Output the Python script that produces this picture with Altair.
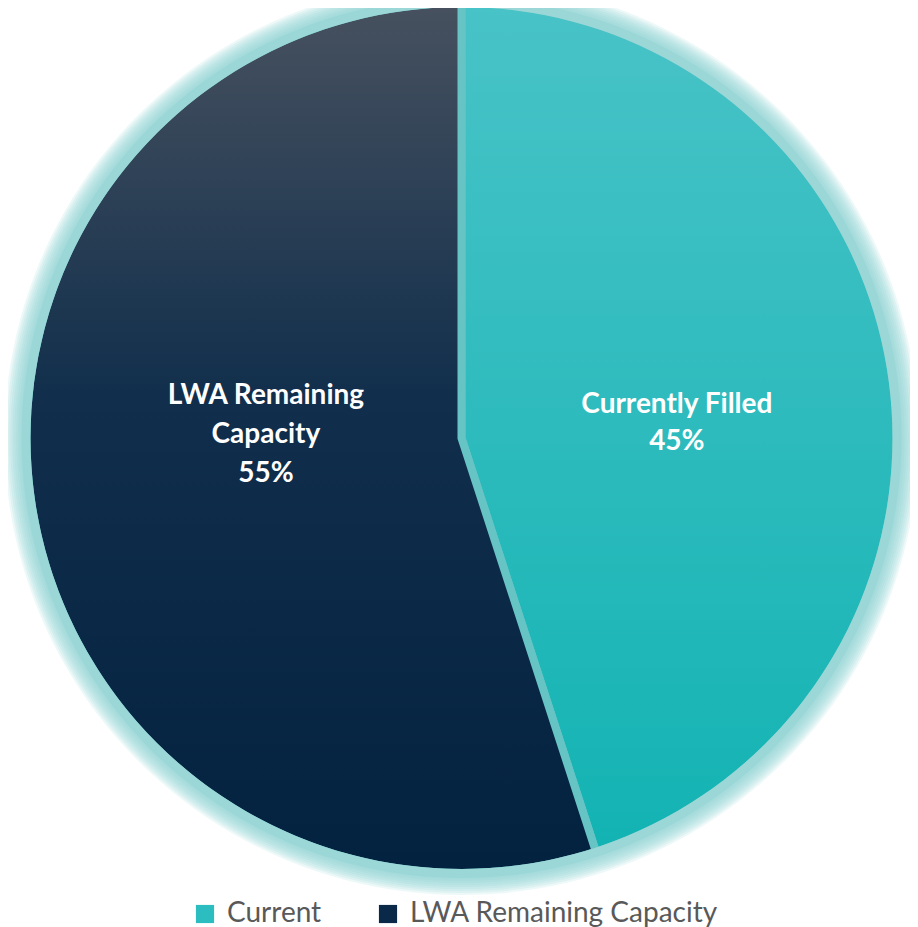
import altair as alt
import pandas as pd

categories = ["Current", "LWA Remaining Capacity"]
values = [45, 55]
slice_labels = [["Currently Filled", "45%"], ["LWA Remaining", "Capacity", "55%"]]
legend_colors = ["#2bbdbf", "#0a2948"]

df = pd.DataFrame({
    "category": categories,
    "value": values,
    "order": list(range(len(categories))),
    "lines": slice_labels,
})
one = pd.DataFrame({"k": [0]})

CX, CY, R = 453.5, 430, 431
TWO_PI = 6.28318

grad_teal = {
    "gradient": "linear", "x1": 0, "y1": 0, "x2": 0, "y2": 1,
    "stops": [{"offset": 0, "color": "#48c3c7"}, {"offset": 1, "color": "#13b3b3"}],
}
grad_dark = {
    "gradient": "linear", "x1": 0, "y1": 0, "x2": 0, "y2": 1,
    "stops": [{"offset": 0, "color": "#47515f"}, {"offset": 0.45, "color": "#112f4c"},
              {"offset": 1, "color": "#03223f"}],
}

# soft glow around the pie
glow_layers = []
for k in range(1, 14):
    glow_layers.append(
        alt.Chart(one).mark_arc(theta=0, theta2=TWO_PI, radius=R + 2 * k,
                                color="#8fd3d3", opacity=0.16)
        .encode(x=alt.value(CX), y=alt.value(CY))
    )

base = alt.Chart(df)
theta = alt.Theta("value:Q", stack=True)
order = alt.Order("order:Q")

solid = base.mark_arc(radius=R).encode(
    x=alt.value(CX), y=alt.value(CY),
    theta=theta, order=order,
    color=alt.Color("category:N",
                    scale=alt.Scale(domain=categories, range=legend_colors),
                    legend=alt.Legend(title=None, orient="none", legendX=183, legendY=892,
                                      direction="horizontal", columns=2, symbolType="square",
                                      symbolSize=330, symbolStrokeWidth=0,
                                      labelFont="Lato", labelFontSize=28, labelColor="#595959",
                                      labelOffset=8, columnPadding=52, padding=0,
                                      labelLimit=600)),
)

grad = base.mark_arc(radius=R + 4, stroke="#66c4c4", strokeWidth=8, strokeJoin="miter").encode(
    x=alt.value(CX), y=alt.value(CY),
    theta=theta, order=order,
    color=alt.condition(alt.datum.category == "Current", alt.value(grad_teal), alt.value(grad_dark)),
)

# rim ring hiding the outer part of the slice outline
rim = alt.Chart(one).mark_arc(theta=0, theta2=TWO_PI, radius=R + 9, radius2=R,
                              color="#9cd7d7").encode(x=alt.value(CX), y=alt.value(CY))

text_cur = base.transform_calculate(
    t="datum.category === 'Current' ? datum.lines : ''"
).mark_text(radius=215, dx=3, dy=1, font="Lato", fontWeight="bold", fontSize=28,
            color="white", lineHeight=37, align="center", baseline="middle").encode(
    x=alt.value(CX), y=alt.value(CY), theta=theta, order=order, text="t:N")

text_rem = base.transform_calculate(
    t="datum.category !== 'Current' ? datum.lines : ''"
).mark_text(radius=196, dx=-2, dy=-73, font="Lato", fontWeight="bold", fontSize=28,
            color="white", lineHeight=39, align="center", baseline="middle").encode(
    x=alt.value(CX), y=alt.value(CY), theta=theta, order=order, text="t:N")

chart = alt.layer(*glow_layers, solid, grad, rim, text_cur, text_rem).properties(
    width=902, height=919, autosize=alt.AutoSizeParams(type="none"), padding=0,
).configure_view(stroke=None)

chart.save("out.html", embed_options={"renderer": "svg", "actions": False})
